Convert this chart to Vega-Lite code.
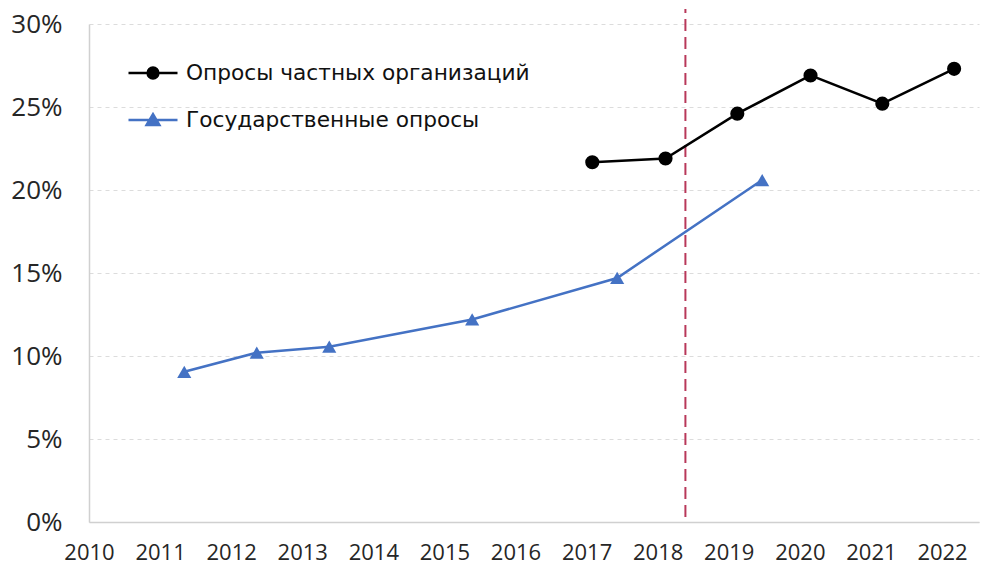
{
  "$schema": "https://vega.github.io/schema/vega-lite/v6.json",
  "width": 890,
  "height": 498,
  "autosize": {"type": "none"},
  "padding": {"left": 89, "top": 24, "right": 21, "bottom": 60},
  "background": "#ffffff",
  "config": {
    "view": {"stroke": null},
    "font": "Open Sans",
    "axis": {"labelColor": "#262626", "domainColor": "#d0d0d0", "domainWidth": 1.5, "ticks": false, "titleFontSize": 0}
  },
  "datasets": {
    "series": [
      {"series": "Опросы частных организаций", "year": 2017.08, "share": 0.2167},
      {"series": "Опросы частных организаций", "year": 2018.11, "share": 0.219},
      {"series": "Опросы частных организаций", "year": 2019.12, "share": 0.246},
      {"series": "Опросы частных организаций", "year": 2020.15, "share": 0.269},
      {"series": "Опросы частных организаций", "year": 2021.16, "share": 0.252},
      {"series": "Опросы частных организаций", "year": 2022.17, "share": 0.273},
      {"series": "Государственные опросы", "year": 2011.34, "share": 0.0905},
      {"series": "Государственные опросы", "year": 2012.36, "share": 0.102},
      {"series": "Государственные опросы", "year": 2013.38, "share": 0.1056},
      {"series": "Государственные опросы", "year": 2015.39, "share": 0.122},
      {"series": "Государственные опросы", "year": 2017.43, "share": 0.147},
      {"series": "Государственные опросы", "year": 2019.47, "share": 0.206}
    ],
    "marker": [{"year": 2018.39}]
  },
  "layer": [
    {
      "data": {"name": "marker"},
      "mark": {"type": "rule", "color": "#b8385a", "strokeWidth": 2, "strokeDash": [12, 6], "clip": false},
      "encoding": {
        "x": {"field": "year", "type": "quantitative", "scale": {"domain": [2010, 2022.52], "nice": false, "zero": false},
              "axis": {"values": [2010,2011,2012,2013,2014,2015,2016,2017,2018,2019,2020,2021,2022], "format": "d", "grid": false, "labelFontSize": 22, "labelPadding": 20, "title": null, "labelFlush": false}},
        "y": {"datum": 0.003, "type": "quantitative", "scale": {"domain": [0, 0.3], "nice": false},
              "axis": {"values": [0, 0.05, 0.1, 0.15, 0.2, 0.25, 0.3], "format": ".0%", "grid": true, "gridColor": "#dcdcdc", "gridDash": [4, 4], "gridWidth": 1, "labelFontSize": 26, "labelPadding": 27, "title": null}},
        "y2": {"datum": 0.309}
      }
    },
    {
      "data": {"name": "series"},
      "mark": {"type": "line", "strokeWidth": 2.5},
      "encoding": {
        "x": {"field": "year", "type": "quantitative"},
        "y": {"field": "share", "type": "quantitative"},
        "color": {"field": "series", "type": "nominal",
                  "scale": {"domain": ["Опросы частных организаций", "Государственные опросы"], "range": ["#000000", "#4472c4"]},
                  "legend": {
                    "orient": "none", "legendX": 38, "legendY": 23, "title": null,
                    "labelFont": "DejaVu Sans", "labelFontSize": 21.7, "labelColor": "#111111", "labelLimit": 0,
                    "symbolSize": 2401, "labelOffset": 7, "rowPadding": 9, "padding": 0,
                    "symbolStrokeWidth": 2.5,
                    "encode": {
                      "symbols": {
                        "update": {
                          "shape": {"signal": "datum.value === 'Опросы частных организаций' ? 'M-1,0H1M-0.22,0A0.22,0.22 0 1,0 0.22,0A0.22,0.22 0 1,0 -0.22,0Z' : 'M-1,0H1M-0.26,0.2L0,-0.24L0.26,0.2Z'"},
                          "size": {"value": 2401},
                          "fill": {"scale": "color", "field": "value"},
                          "stroke": {"scale": "color", "field": "value"},
                          "strokeWidth": {"value": 2.5},
                          "opacity": {"value": 1}
                        }
                      }
                    }
                  }},
        "detail": {"field": "series"}
      }
    },
    {
      "data": {"name": "series"},
      "transform": [{"filter": "datum.series === 'Опросы частных организаций'"}],
      "mark": {"type": "point", "filled": true, "opacity": 1, "shape": "circle", "size": 200},
      "encoding": {
        "x": {"field": "year", "type": "quantitative"},
        "y": {"field": "share", "type": "quantitative"},
        "color": {"field": "series", "type": "nominal"}
      }
    },
    {
      "data": {"name": "series"},
      "transform": [{"filter": "datum.series === 'Государственные опросы'"}],
      "mark": {"type": "point", "filled": true, "opacity": 1, "shape": "triangle-up", "size": 200},
      "encoding": {
        "x": {"field": "year", "type": "quantitative"},
        "y": {"field": "share", "type": "quantitative"},
        "color": {"field": "series", "type": "nominal"}
      }
    }
  ]
}
